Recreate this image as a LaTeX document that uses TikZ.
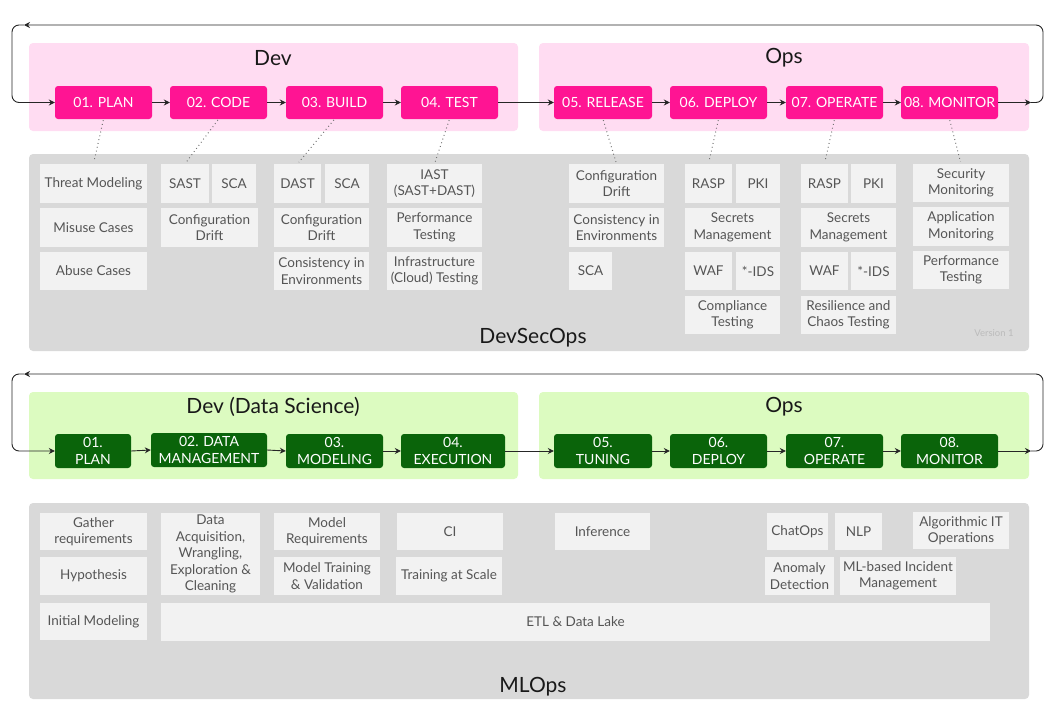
\documentclass[tikz,border=0pt]{standalone}
\usepackage{fontspec}
\setmainfont{Lato}
\usetikzlibrary{arrows.meta}
\definecolor{pinkbg}{HTML}{FFDCF2}
\definecolor{pinkstep}{HTML}{FF1493}
\definecolor{greenbg}{HTML}{DCFBC0}
\definecolor{greenstep}{HTML}{0A640A}
\definecolor{graybg}{HTML}{D9D9D9}
\definecolor{subbg}{HTML}{F2F2F2}
\definecolor{subtext}{HTML}{555555}
\definecolor{vers}{HTML}{BBBBBB}
\newcommand\BX[7]{\node[#1,minimum width={#5-#3},minimum height={#6-#4}] (#2) at ({(#3+#5)/2},{(#4+#6)/2}) {#7};}
\begin{document}
\begin{tikzpicture}[x=1pt,y=-1pt,
  panel/.style={rounded corners=4pt,inner sep=0pt,draw=none},
  stepbox/.style={rounded corners=3pt,inner sep=0pt,text=white,font=\fontsize{14}{16.5}\selectfont,align=center},
  sub/.style={fill=subbg,inner sep=0pt,text=subtext,font=\fontsize{13.5}{16.5}\selectfont,align=center},
  ttl/.style={inner sep=0pt,font=\fontsize{21}{24}\selectfont,text=black!90},
  arr/.style={draw=black!85,line width=0.9pt,-{Stealth[length=6pt,width=6pt]}},
  dots/.style={draw=black!55,line width=1pt,dash pattern=on 0.9pt off 3pt,shorten >=2pt,shorten <=1pt}]
\useasboundingbox (0,0) rectangle (1059,720);
% ---------------- DevSecOps ----------------
\BX{panel,fill=pinkbg}{devp}{29}{43}{518}{131}{}
\BX{panel,fill=pinkbg}{opsp}{539}{43}{1029}{131}{}
\BX{panel,fill=graybg}{dso}{29}{154}{1029}{351}{}
\node[ttl] (devt) at (273,58) {Dev};
\node[ttl] (opst) at (784,58) {Ops};
\node[ttl] (dsot) at (533,338) {DevSecOps};
\node[inner sep=0pt,text=vers,font=\fontsize{9.5}{11}\selectfont] (ver) at (994,333) {Version 1};
\BX{stepbox,fill=pinkstep}{s1}{55}{86}{152}{119}{01. PLAN}
\BX{stepbox,fill=pinkstep}{s2}{170}{86}{267}{119}{02. CODE}
\BX{stepbox,fill=pinkstep}{s3}{286}{86}{383}{119}{03. BUILD}
\BX{stepbox,fill=pinkstep}{s4}{401}{86}{498}{119}{04. TEST}
\BX{stepbox,fill=pinkstep}{s5}{554}{86}{652}{119}{05. RELEASE}
\BX{stepbox,fill=pinkstep}{s6}{670}{86}{767}{119}{06. DEPLOY}
\BX{stepbox,fill=pinkstep}{s7}{786}{86}{883}{119}{07. OPERATE}
\BX{stepbox,fill=pinkstep}{s8}{901}{86}{998}{119}{08. MONITOR}
\foreach \a/\b in {s1/s2,s2/s3,s3/s4,s4/s5,s5/s6,s6/s7,s7/s8} \draw[arr] (\a.east) -- (\b.west);
\coordinate (sr) at (1031,102.5);
\coordinate (stl) at (24,25);
\draw[arr] (s8.east) -- (sr);
\draw[arr,rounded corners=7pt] (sr) -- (1043,102.5) -- (1043,25) -- (stl);
\draw[arr,rounded corners=7pt] (stl) -- (12,25) -- (12,102.5) -- (s1.west);
% sub boxes: PLAN
\BX{sub}{a1}{40}{164}{147}{203}{Threat Modeling}
\BX{sub}{a2}{40}{208}{147}{247}{Misuse Cases}
\BX{sub}{a3}{40}{252}{147}{290}{Abuse Cases}
% CODE
\BX{sub}{b1}{161}{164}{209}{203}{SAST}
\BX{sub}{b2}{212}{164}{256}{203}{SCA}
\BX{sub}{b3}{161}{208}{258}{247}{Configuration\\Drift}
% BUILD
\BX{sub}{c1}{274}{164}{321}{203}{DAST}
\BX{sub}{c2}{325}{164}{369}{203}{SCA}
\BX{sub}{c3}{274}{208}{369}{247}{Configuration\\Drift}
\BX{sub}{c4}{274}{252}{369}{290}{Consistency in\\Environments}
% TEST
\BX{sub}{d1}{387}{164}{482}{203}{IAST\\(SAST+DAST)}
\BX{sub}{d2}{387}{208}{482}{247}{Performance\\Testing}
\BX{sub}{d3}{387}{252}{482}{290}{Infrastructure\\(Cloud) Testing}
% RELEASE
\BX{sub}{e1}{569}{164}{664}{203}{Configuration\\Drift}
\BX{sub}{e2}{569}{208}{664}{247}{Consistency in\\Environments}
\BX{sub}{e3}{569}{252}{612}{290}{SCA}
% DEPLOY
\BX{sub}{f1}{685}{164}{732}{203}{RASP}
\BX{sub}{f2}{736}{164}{780}{203}{PKI}
\BX{sub}{f3}{685}{208}{780}{247}{Secrets\\Management}
\BX{sub}{f4}{685}{252}{732}{290}{WAF}
\BX{sub}{f5}{736}{252}{780}{290}{*-IDS}
\BX{sub}{f6}{685}{296}{780}{334}{Compliance\\Testing}
% OPERATE
\BX{sub}{h1}{801}{164}{848}{203}{RASP}
\BX{sub}{h2}{851}{164}{896}{203}{PKI}
\BX{sub}{h3}{801}{208}{896}{247}{Secrets\\Management}
\BX{sub}{h4}{801}{252}{848}{290}{WAF}
\BX{sub}{h5}{851}{252}{896}{290}{*-IDS}
\BX{sub}{h6}{801}{296}{896}{334}{Resilience and\\Chaos Testing}
% MONITOR
\BX{sub}{k1}{913}{164}{1009}{202}{Security\\Monitoring}
\BX{sub}{k2}{913}{207}{1009}{246}{Application\\Monitoring}
\BX{sub}{k3}{913}{251}{1009}{289}{Performance\\Testing}
% dotted links
\foreach \a/\b in {s1/a1,s2/b1,s3/c1,s4/d1,s5/e1,s6/f1,s7/h1,s8/k1} \draw[dots] (\a.south) -- (\b.north);
% ---------------- MLOps ----------------
\BX{panel,fill=greenbg}{mdevp}{29}{392}{518}{479}{}
\BX{panel,fill=greenbg}{mopsp}{539}{392}{1029}{479}{}
\BX{panel,fill=graybg}{mlo}{29}{503}{1029}{699}{}
\node[ttl] (mdevt) at (273,407) {Dev (Data Science)};
\node[ttl] (mopst) at (784,407) {Ops};
\node[ttl] (mlot) at (533,687) {MLOps};
\BX{stepbox,fill=greenstep}{g1}{55}{434}{131}{468}{01.\\PLAN}
\BX{stepbox,fill=greenstep}{g2}{151}{433}{267}{467}{02. DATA\\MANAGEMENT}
\BX{stepbox,fill=greenstep}{g3}{286}{434}{383}{468}{03.\\MODELING}
\BX{stepbox,fill=greenstep}{g4}{401}{434}{505}{468}{04.\\EXECUTION}
\BX{stepbox,fill=greenstep}{g5}{554}{434}{652}{468}{05.\\TUNING}
\BX{stepbox,fill=greenstep}{g6}{670}{434}{767}{468}{06.\\DEPLOY}
\BX{stepbox,fill=greenstep}{g7}{786}{434}{883}{468}{07.\\OPERATE}
\BX{stepbox,fill=greenstep}{g8}{901}{434}{998}{468}{08.\\MONITOR}
\foreach \a/\b in {g1/g2,g2/g3,g3/g4,g4/g5,g5/g6,g6/g7,g7/g8} \draw[arr] (\a.east) -- (\b.west);
\coordinate (mr) at (1031,451);
\coordinate (mtl) at (24,374);
\draw[arr] (g8.east) -- (mr);
\draw[arr,rounded corners=7pt] (mr) -- (1043,451) -- (1043,374) -- (mtl);
\draw[arr,rounded corners=7pt] (mtl) -- (12,374) -- (12,451) -- (g1.west);
% sub boxes
\BX{sub}{m1}{40}{513}{147}{550}{Gather\\requirements}
\BX{sub}{m2}{40}{557}{147}{595}{Hypothesis}
\BX{sub}{m3}{40}{603}{147}{640}{Initial Modeling}
\BX{sub}{m4}{161}{513}{260}{595}{Data\\Acquisition,\\Wrangling,\\Exploration \&\\Cleaning}
\BX{sub}{m5}{274}{513}{380}{550}{Model\\Requirements}
\BX{sub}{m6}{274}{557}{380}{595}{Model Training\\\& Validation}
\BX{sub}{m7}{397}{513}{503}{550}{CI}
\BX{sub}{m8}{396}{557}{502}{595}{Training at Scale}
\BX{sub}{m9}{161}{603}{990}{641}{ETL \& Data Lake}
\BX{sub}{m10}{555}{513}{650}{550}{Inference}
\BX{sub}{m11}{767}{513}{828}{550}{ChatOps}
\BX{sub}{m12}{835}{513}{882}{550}{NLP}
\BX{sub}{m13}{913}{512}{1009}{549}{Algorithmic IT\\Operations}
\BX{sub}{m14}{765}{557}{834}{595}{Anomaly\\Detection}
\BX{sub}{m15}{840}{557}{956}{595}{ML-based Incident\\Management}
\end{tikzpicture}
\end{document}
